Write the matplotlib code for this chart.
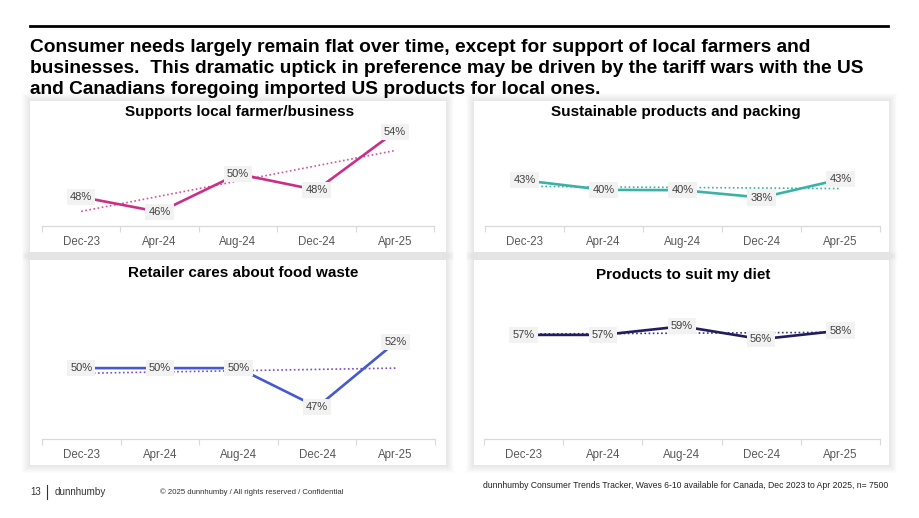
import matplotlib
matplotlib.use("Agg")
import matplotlib.pyplot as plt
import numpy as np
from matplotlib.patches import Rectangle
from matplotlib.lines import Line2D

plt.rcParams['font.family'] = ['Liberation Sans', 'DejaVu Sans']

W, H = 920, 518

categories = ["Dec-23", "Apr-24", "Aug-24", "Dec-24", "Apr-25"]
local_farmer = [47.5, 46.0, 49.8, 48.2, 54.0]
sustainable = [42.9, 40.2, 40.1, 38.0, 43.2]
food_waste = [50.0, 50.0, 50.0, 47.0, 52.0]
suit_diet = [57.0, 57.0, 59.0, 56.0, 58.0]

titles = ["Supports local farmer/business", "Sustainable products and packing",
          "Retailer cares about food waste", "Products to suit my diet"]

headline = ["Consumer needs largely remain flat over time, except for support of local farmers and",
            "businesses.  This dramatic uptick in preference may be driven by the tariff wars with the US",
            "and Canadians foregoing imported US products for local ones."]

source_note = "dunnhumby Consumer Trends Tracker, Waves 6-10 available for Canada, Dec 2023 to Apr 2025, n= 7500"
copyright_note = "\u00a9 2025 dunnhumby / All rights reserved / Confidential"

fig = plt.figure(figsize=(W / 100, H / 100), dpi=100)
fig.patch.set_facecolor("white")


def fx(x):
    return x / W


def fy(y):
    return 1 - y / H


# top rule
fig.add_artist(Line2D([fx(30), fx(888)], [fy(26), fy(26)], color="black", lw=2.0))

# headline
for i, line in enumerate(headline):
    fig.text(fx(30), fy(52 + 21 * i), line, fontsize=13.8, fontweight="bold",
             color="black", va="baseline", ha="left")

# panels with soft shadow
panels = [(30, 101, 446, 252), (474, 101, 889, 252), (30, 260, 446, 465), (474, 260, 889, 465)]
for (x0, y0, x1, y1) in panels:
    for k in range(8, 0, -1):
        fig.add_artist(Rectangle((fx(x0 - k), fy(y1 + k)), fx(x1 - x0 + 2 * k), (y1 - y0 + 2 * k) / H,
                                 facecolor="#000000", alpha=0.010, edgecolor="none",
                                 transform=fig.transFigure, zorder=-10))
    fig.add_artist(Rectangle((fx(x0), fy(y1)), fx(x1 - x0), (y1 - y0) / H,
                             facecolor="white", edgecolor="none", transform=fig.transFigure,
                             zorder=-5))

series = [local_farmer, sustainable, food_waste, suit_diet]
line_colors = ["#C92F88", "#3AB3A6", "#4659CF", "#221C60"]
trend_colors = ["#D6519F", "#3AB3A6", "#7A4BCB", "#3A3478"]
# axes extents in pixels: x0, x1, y_top, y_bottom
ax_boxes = [(42, 434, 120, 226), (485, 880, 120, 226), (42, 435, 285, 439), (484, 880, 285, 439)]
ylims = [(44.6, 55.2), (29.9, 60.1), (44.54, 56.4), (32.8, 68.6)]
title_pos = [(240, 112), (676, 112), (243, 273), (683, 275)]

x = np.arange(len(categories))
for i in range(4):
    x0, x1, yt, yb = ax_boxes[i]
    ax = fig.add_axes([fx(x0), fy(yb), fx(x1 - x0), (yb - yt) / H])
    ax.set_facecolor("none")
    ax.set_zorder(2)
    vals = np.array(series[i])
    ax.plot(x, vals, color=line_colors[i], lw=1.9, solid_capstyle="butt", zorder=3)
    coef = np.polyfit(x, vals, 1)
    ax.plot(x, np.polyval(coef, x), color=trend_colors[i], lw=1.2, ls=(0, (1, 1.5)), zorder=2)
    for xi, v in zip(x, vals):
        ax.text(xi, v, f"{round(v):.0f}%", fontsize=8, color="#404040", ha="center", va="center",
                zorder=4, bbox=dict(boxstyle="square,pad=0.28", facecolor="#F2F2F2", edgecolor="none"))
    ax.set_xlim(-0.5, len(categories) - 0.5)
    ax.set_ylim(*ylims[i])
    ax.set_xticks(x)
    ax.set_xticklabels(categories, fontsize=8.3, color="#595959")
    ax.set_xticks(np.arange(-0.5, len(categories)), minor=True)
    ax.tick_params(axis="x", which="major", length=0, pad=7)
    ax.tick_params(axis="x", which="minor", length=4, color="#D9D9D9", width=0.8)
    ax.set_yticks([])
    for s in ["top", "right", "left"]:
        ax.spines[s].set_visible(False)
    ax.spines["bottom"].set_color("#D9D9D9")
    ax.spines["bottom"].set_linewidth(0.9)
    tx, ty = title_pos[i]
    fig.text(fx(tx), fy(ty), titles[i], fontsize=11, fontweight="bold", color="black",
             ha="center", va="center")

# footer
fig.text(fx(30), fy(492), "13", fontsize=7, color="#333333", ha="left", va="center")
fig.add_artist(Line2D([fx(47.5), fx(47.5)], [fy(485), fy(499)], color="#333333", lw=0.8))
fig.text(fx(55), fy(492), "dunnhumby", fontsize=7.1, color="#333333", ha="left", va="center")
fig.text(fx(160), fy(492), copyright_note, fontsize=5.6, color="#333333", ha="left", va="center")
fig.text(fx(888), fy(485), source_note, fontsize=6.2, color="#222222", ha="right", va="center")

fig.savefig("out.png", dpi=100, facecolor="white")
